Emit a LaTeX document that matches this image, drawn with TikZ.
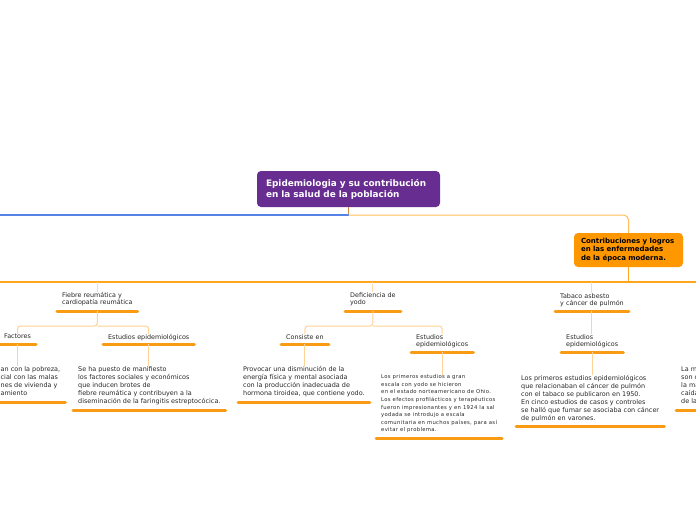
\documentclass[tikz,border=0pt]{standalone}
\usepackage{fontspec}
\setmainfont{DejaVu Sans}
\newfontfamily\spacedfont[LetterSpace=6]{DejaVu Sans}
\usetikzlibrary{calc}
\definecolor{purp}{RGB}{103,45,145}
\definecolor{orfill}{RGB}{255,152,0}
\definecolor{txtc}{RGB}{40,40,40}
\definecolor{barc}{RGB}{250,155,20}
\definecolor{lightc}{RGB}{255,210,150}
\definecolor{stubc}{RGB}{255,220,170}
\definecolor{mainc}{RGB}{255,165,30}
\definecolor{topc}{RGB}{255,190,90}
\definecolor{bluec}{RGB}{85,130,230}
\definecolor{brownc}{RGB}{205,140,70}
\tikzset{
  mainbox/.style={fill=purp, rounded corners=4pt, text=white, font={\fontsize{8.9}{11}\selectfont\bfseries}, align=left, text width=165pt, inner xsep=9pt, inner ysep=0pt, minimum height=36pt},
  orbox/.style={fill=orfill, rounded corners=4pt, text=black, font={\fontsize{7}{8.5}\selectfont\bfseries}, align=left, text width=95pt, inner xsep=7pt, inner ysep=0pt, minimum height=34pt},
  lbl/.style={font={\fontsize{6.4}{7.6}\selectfont}, text=txtc, align=left, inner sep=0pt, anchor=north west},
  para/.style={lbl, font={\fontsize{6.45}{8}\selectfont}},
  smallpara/.style={lbl, font={\spacedfont\fontsize{5.3}{7.6}\selectfont}},
  barline/.style={line width=3pt, draw=barc, line cap=round},
  subconn/.style={draw=lightc, line width=1pt, rounded corners=3pt},
  stub/.style={draw=stubc, line width=1pt},
  mainline/.style={draw=mainc, line width=1.3pt},
  topline/.style={draw=topc, line width=1pt},
  blueline/.style={draw=bluec, line width=1.3pt},
}
\newcommand\ulbar[2]{\draw[barline] ($(#1.west |- 0,#2)+(-5,0)$) -- ($(#1.east |- 0,#2)+(5,0)$); \coordinate (#1B) at (#1.south |- 0,#2);}
\begin{document}
\begin{tikzpicture}[x=1pt,y=-1pt]
\useasboundingbox (0,0) rectangle (696,520);
\clip (0,0) rectangle (696,520);
\fill[white] (0,0) rectangle (696,520);

% central and second level
\node[mainbox] (main) at (348.5,189) {Epidemiologia y su contribución\\en la salud de la población};
\node[orbox] (contrib) at (628.5,250) {Contribuciones y logros\\en las enfermedades\\de la época moderna.};
\coordinate (Lt) at (0,215);
\coordinate (j1) at (main.south |- Lt);
\draw[draw=brownc, line width=1.2pt] (main.south) -- (j1);
\draw[blueline] (j1) -- (Lt);
\draw[topline, rounded corners=5pt] (j1) -- (contrib.north |- Lt) -- (contrib.north);
\coordinate (Lm) at (0,282);
\coordinate (Rm) at (696,282);
\coordinate (j2) at (contrib.south |- Lm);
\draw[mainline] (contrib.south) -- (j2);
\draw[mainline] (Lm) -- (Rm);
\coordinate (h326) at (0,326);

% level 1
\node[lbl] (fiebre) at (62,292) {Fiebre reumática y\\cardiopatía reumática};
\node[lbl] (yodo) at (350,292) {Deficiencia de\\yodo};
\node[lbl] (tabaco) at (560,293) {Tabaco asbesto\\y cáncer de pulmón};
\draw[stub] (fiebre.north |- Lm) -- (fiebre.north);
\draw[stub] (yodo.north |- Lm) -- (yodo.north);
\draw[stub] (tabaco.north |- Lm) -- (tabaco.north);
\ulbar{fiebre}{311}
\ulbar{yodo}{311}
\ulbar{tabaco}{311}

% fiebre subtree
\node[lbl] (factores) at (4,334) {Factores};
\node[lbl] (estf) at (108,334) {Estudios epidemiológicos};
\ulbar{factores}{344}
\ulbar{estf}{344}
\draw[subconn] (fiebreB) -- (fiebreB |- h326) -| (factores.north);
\draw[subconn] (fiebreB |- h326) -| (estf.north);
\node[para] (factxt) at (0.5,366) {an con la pobreza,\\cial con las malas\\nes de vivienda y\\amiento};
\node[para] (estftxt) at (78,366) {Se ha puesto de manifiesto\\los factores sociales y económicos\\que inducen brotes de\\fiebre reumática y contribuyen a la\\diseminación de la faringitis estreptocócica.};
\ulbar{factxt}{402}
\ulbar{estftxt}{410}
\draw[subconn] (factoresB) -- (factoresB |- factxt.north);
\draw[subconn] (estfB) -- (estfB |- estftxt.north);

% yodo subtree
\node[lbl] (consiste) at (286,334) {Consiste en};
\node[lbl] (esty) at (416,334) {Estudios\\epidemiológicos};
\ulbar{consiste}{344}
\ulbar{esty}{352}
\draw[subconn] (yodoB) -- (yodoB |- h326) -| (consiste.north);
\draw[subconn] (yodoB |- h326) -| (esty.north);
\node[para] (constxt) at (243,366) {Provocar una disminución de la\\energía física y mental asociada\\con la producción inadecuada de\\hormona tiroidea, que contiene yodo.};
\node[smallpara] (estytxt) at (381,374.5) {Los primeros estudios a gran\\escala con yodo se hicieron\\en el estado norteamericano de Ohio.\\Los efectos profilácticos y terapéuticos\\fueron impresionantes y en 1924 la sal\\yodada se introdujo a escala\\comunitaria en muchos países, para así\\evitar el problema.};
\ulbar{constxt}{402}
\ulbar{estytxt}{438}
\draw[subconn] (consisteB) -- (consisteB |- constxt.north);
\draw[subconn] (estyB) -- (estyB |- estytxt.north);

% tabaco subtree
\node[lbl] (estt) at (566,334) {Estudios\\epidemiológicos};
\ulbar{estt}{352}
\draw[subconn] (tabacoB) -- (tabacoB |- estt.north);
\node[para] (esttxt) at (521,375) {Los primeros estudios epidemiológicos\\que relacionaban el cáncer de pulmón\\con el tabaco se publicaron en 1950.\\En cinco estudios de casos y controles\\se halló que fumar se asociaba con cáncer\\de pulmón en varones.};
\ulbar{esttxt}{426}
\draw[subconn] (esttB) -- (esttB |- esttxt.north);

% right edge (cut off in the reference)
\node[para] (rtxt) at (681,367) {La m\\son c\\la ma\\caída\\de la};
\ulbar{rtxt}{410}
\end{tikzpicture}
\end{document}
